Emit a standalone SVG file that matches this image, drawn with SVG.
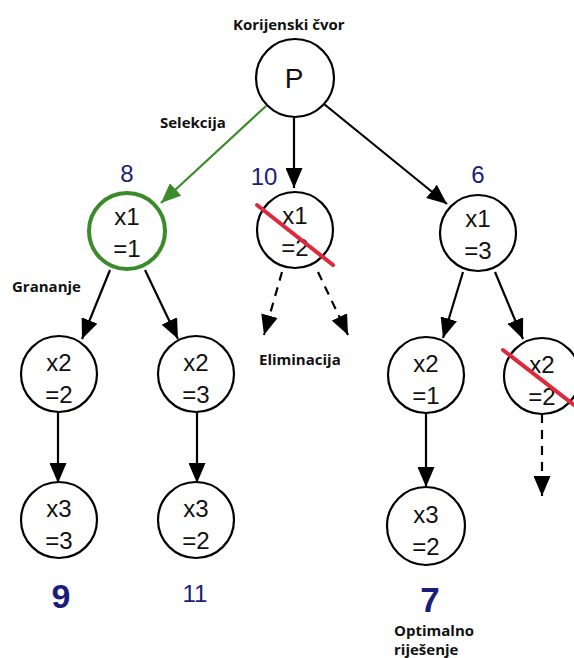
<svg xmlns="http://www.w3.org/2000/svg" width="574" height="658" viewBox="0 0 574 658">
<style>
.n{fill:#fff;stroke:#000;stroke-width:2.2}
.g{fill:#fff;stroke:#3a8c2a;stroke-width:4}
.t{font-family:"Liberation Sans",Arial,sans-serif;font-size:24px;fill:#111;text-anchor:middle}
.v{font-family:"Liberation Sans",Arial,sans-serif;fill:#1c1c7c;text-anchor:middle}
.l{font-family:"Open Sans","Liberation Sans",sans-serif;font-weight:700;font-size:15px;fill:#111}
.e{stroke:#000;stroke-width:2.2;fill:none}
.d{stroke:#000;stroke-width:2.2;fill:none;stroke-dasharray:9,7}
.x{stroke:#e0283a;stroke-width:4;stroke-linecap:round}
</style>
<defs>
<marker id="ab" markerUnits="userSpaceOnUse" markerWidth="20" markerHeight="17" refX="20" refY="8.5" orient="auto"><path d="M0,0 L20,8.5 L0,17 z" fill="#000"/></marker>
<marker id="ag" markerUnits="userSpaceOnUse" markerWidth="20" markerHeight="17" refX="20" refY="8.5" orient="auto"><path d="M0,0 L20,8.5 L0,17 z" fill="#3a8c2a"/></marker>
</defs>
<g id="connectors">
<line x1="266" y1="106" x2="161" y2="203" stroke="#3a8c2a" stroke-width="2.2" marker-end="url(#ag)"/>
<line class="e" x1="294" y1="118" x2="294" y2="188" marker-end="url(#ab)"/>
<line class="e" x1="324" y1="104" x2="447" y2="204" marker-end="url(#ab)"/>
<line class="e" x1="110" y1="270" x2="82" y2="339" marker-end="url(#ab)"/>
<line class="e" x1="145" y1="270" x2="178" y2="339" marker-end="url(#ab)"/>
<line class="d" x1="282" y1="272" x2="264" y2="335" marker-end="url(#ab)"/>
<line class="d" x1="318" y1="272" x2="348" y2="335" marker-end="url(#ab)"/>
<line class="e" x1="463" y1="272" x2="443" y2="338" marker-end="url(#ab)"/>
<line class="e" x1="495" y1="272" x2="523" y2="339" marker-end="url(#ab)"/>
<line class="e" x1="58" y1="412" x2="58" y2="483" marker-end="url(#ab)"/>
<line class="e" x1="197" y1="412" x2="197" y2="483" marker-end="url(#ab)"/>
<line class="e" x1="426" y1="413" x2="426" y2="487" marker-end="url(#ab)"/>
<line class="d" x1="542" y1="414" x2="542" y2="496" marker-end="url(#ab)"/>
</g>
<g id="root"><circle class="n" cx="295" cy="78" r="39"/><text class="t" x="294" y="88" style="font-size:28px">P</text></g>
<g id="n11"><circle class="g" cx="127" cy="231" r="38"/><text class="t" x="127" y="225">x1</text><text class="t" x="127" y="257">=1</text></g>
<g id="n12"><circle class="n" cx="295" cy="230" r="38"/><text class="t" x="295" y="224">x1</text><text class="t" x="295" y="256">=2</text><line class="x" x1="257" y1="205" x2="333" y2="265"/></g>
<g id="n13"><circle class="n" cx="478" cy="233" r="38"/><text class="t" x="478" y="227">x1</text><text class="t" x="478" y="259">=3</text></g>
<g id="n22"><circle class="n" cx="59" cy="374" r="38"/><text class="t" x="59" y="371">x2</text><text class="t" x="59" y="403">=2</text></g>
<g id="n23"><circle class="n" cx="196" cy="374" r="38"/><text class="t" x="196" y="371">x2</text><text class="t" x="196" y="403">=3</text></g>
<g id="n21"><circle class="n" cx="426" cy="375" r="38"/><text class="t" x="426" y="372">x2</text><text class="t" x="426" y="404">=1</text></g>
<g id="n24"><circle class="n" cx="542" cy="376" r="38"/><text class="t" x="542" y="373">x2</text><text class="t" x="542" y="405">=2</text><line class="x" x1="503" y1="350" x2="578" y2="408"/></g>
<g id="n33"><circle class="n" cx="59" cy="520" r="38"/><text class="t" x="59" y="517">x3</text><text class="t" x="59" y="549">=3</text></g>
<g id="n32"><circle class="n" cx="196" cy="520" r="38"/><text class="t" x="196" y="517">x3</text><text class="t" x="196" y="549">=2</text></g>
<g id="n32b"><circle class="n" cx="426" cy="526" r="39"/><text class="t" x="426" y="523">x3</text><text class="t" x="426" y="555">=2</text></g>
<g id="values">
<text class="v" x="127" y="182" font-size="24">8</text>
<text class="v" x="264" y="185" font-size="24">10</text>
<text class="v" x="478" y="183" font-size="24">6</text>
<text class="v" x="61" y="608" font-size="34" font-weight="700">9</text>
<text class="v" x="195" y="602" font-size="24">11</text>
<text class="v" x="430" y="612" font-size="35" font-weight="700">7</text>
</g>
<g id="labels">
<text class="l" x="233" y="30">Korijenski čvor</text>
<text class="l" x="160" y="128">Selekcija</text>
<text class="l" x="12" y="292">Grananje</text>
<text class="l" x="259" y="365">Eliminacija</text>
<text class="l" x="394" y="635.5" font-size="12.5">Optimalno</text>
<text class="l" x="394" y="654.5" font-size="12.5">riješenje</text>
</g>
</svg>
